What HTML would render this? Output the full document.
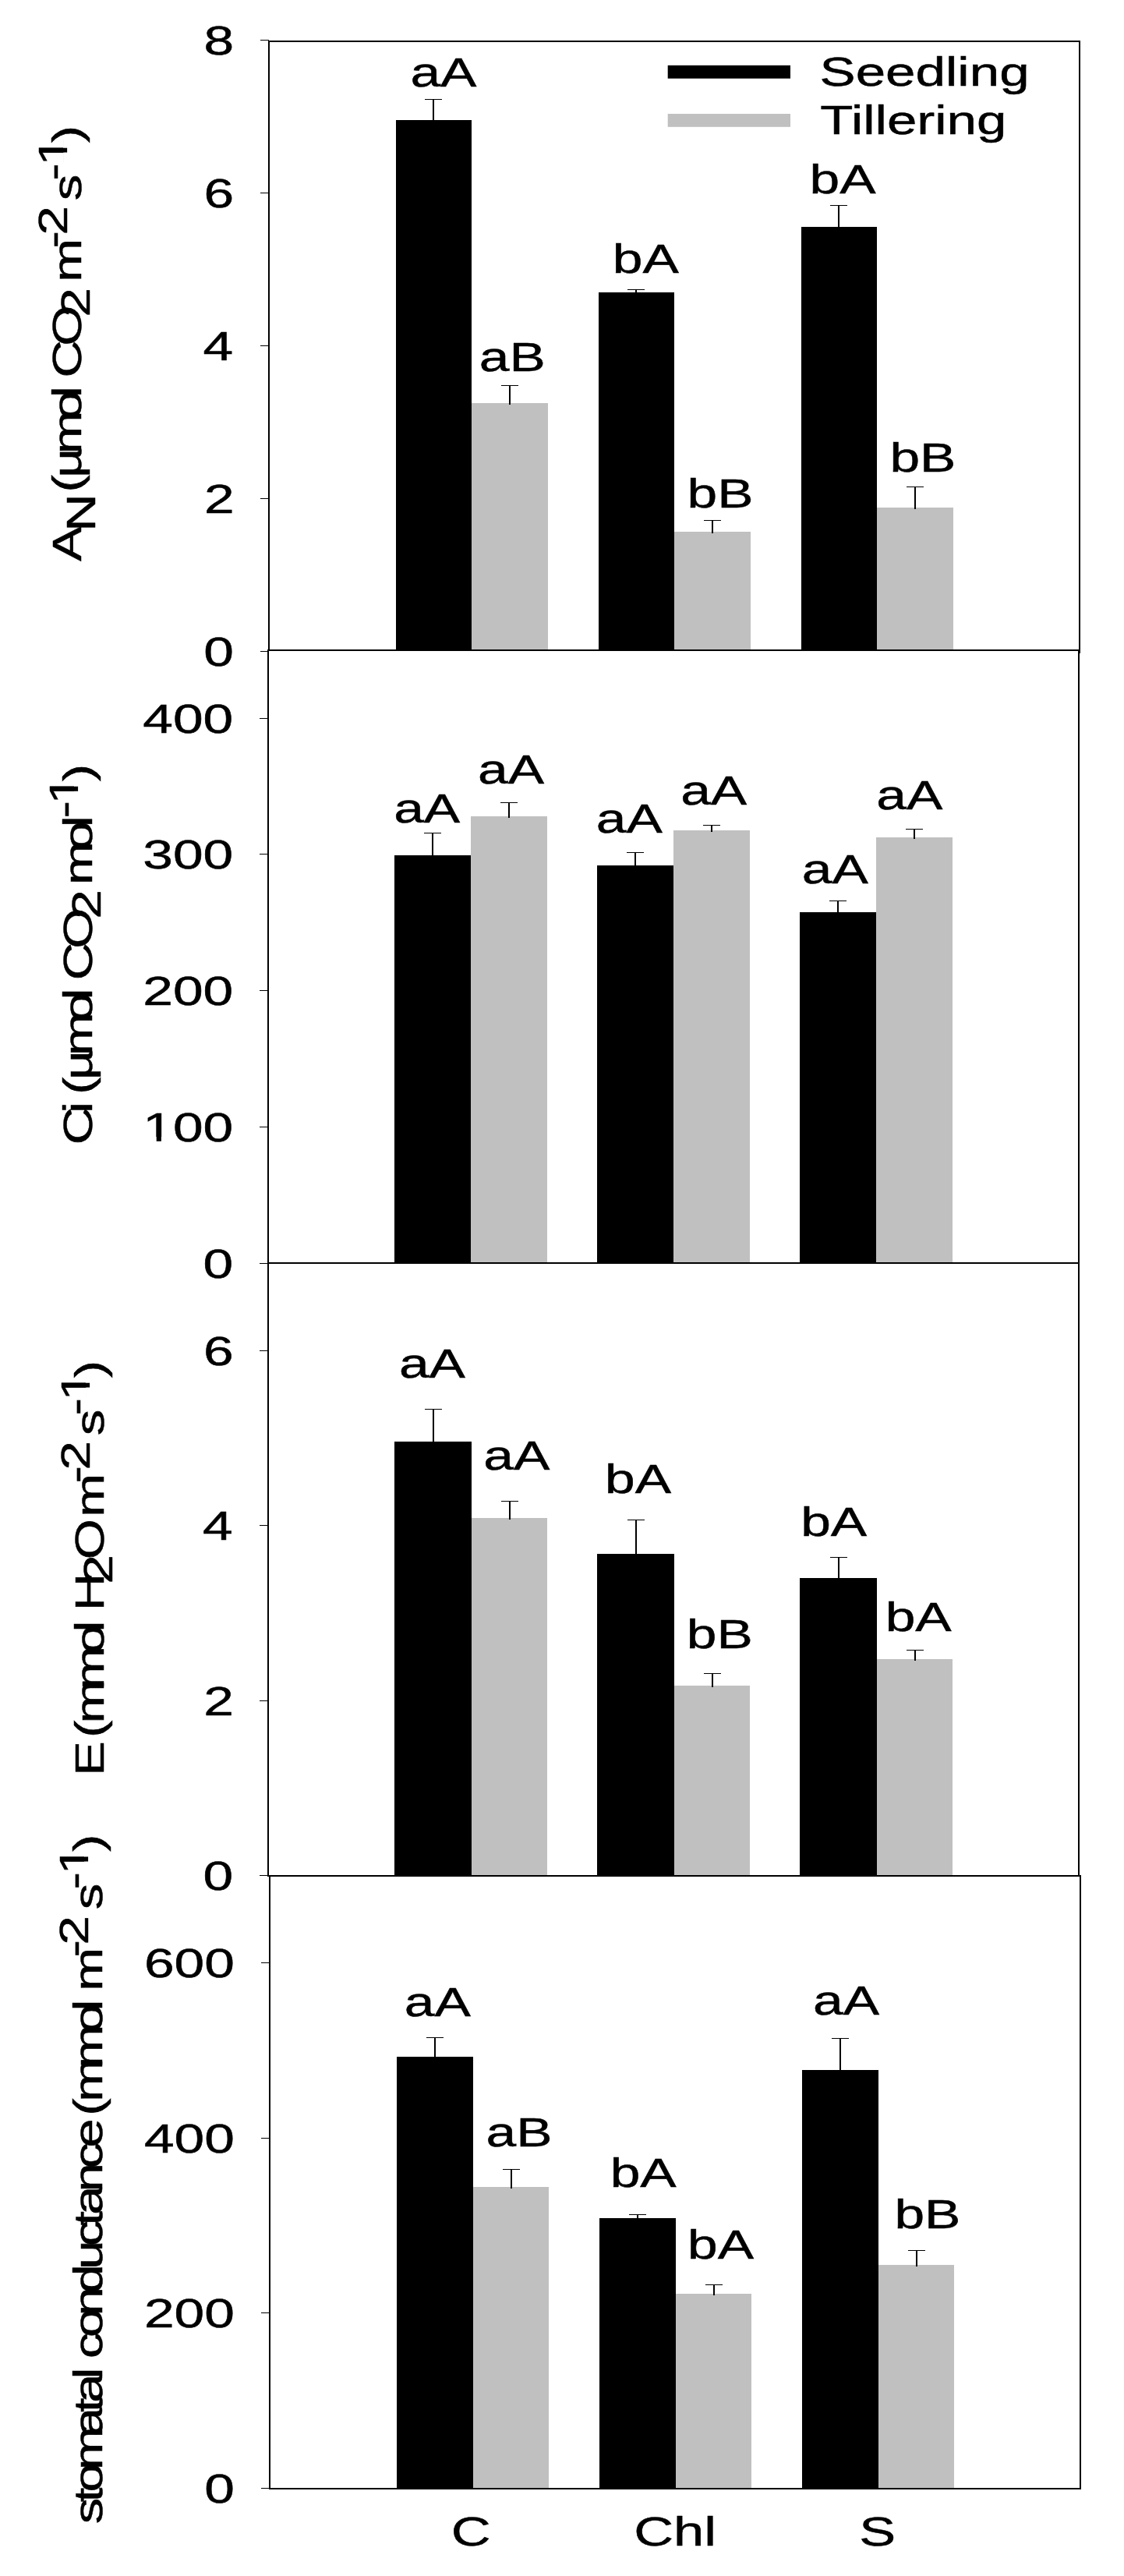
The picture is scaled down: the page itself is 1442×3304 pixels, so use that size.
<!DOCTYPE html>
<html><head><meta charset="utf-8"><title>Gas exchange</title>
<style>html,body{margin:0;padding:0;background:#fff}svg{display:block}text{font-family:"Liberation Sans",Arial,Helvetica,sans-serif;fill:#000;stroke:#000;stroke-width:0.5px;stroke-linejoin:miter}</style>
</head><body>
<svg width="1442" height="3304" viewBox="0 0 1442 3304">
<defs><clipPath id="one" clipPathUnits="userSpaceOnUse"><rect x="0" y="-52.50" width="52.50" height="47.373"/><rect x="13.202" y="-5.896" width="4.640" height="6.096"/></clipPath></defs>
<rect x="0" y="0" width="1442" height="3304" fill="#fff"/>
<g id="panel1">
<rect x="345.00" y="53.00" width="1040.00" height="784.00" fill="#fff"/>
<rect x="508.00" y="154.00" width="97.00" height="683.00" fill="#000"/>
<line x1="556.00" y1="127.50" x2="556.00" y2="156.00" stroke="#000" stroke-width="2"/>
<line x1="545.00" y1="127.50" x2="567.00" y2="127.50" stroke="#000" stroke-width="1"/>
<rect x="605.00" y="517.00" width="98.00" height="320.00" fill="#c0c0c0"/>
<line x1="654.00" y1="494.50" x2="654.00" y2="519.00" stroke="#000" stroke-width="2"/>
<line x1="643.00" y1="494.50" x2="665.00" y2="494.50" stroke="#000" stroke-width="1"/>
<rect x="768.00" y="375.00" width="97.00" height="462.00" fill="#000"/>
<line x1="816.00" y1="371.50" x2="816.00" y2="377.00" stroke="#000" stroke-width="2"/>
<line x1="805.00" y1="371.50" x2="827.00" y2="371.50" stroke="#000" stroke-width="1"/>
<rect x="865.00" y="682.00" width="98.00" height="155.00" fill="#c0c0c0"/>
<line x1="914.00" y1="667.50" x2="914.00" y2="684.00" stroke="#000" stroke-width="2"/>
<line x1="903.00" y1="667.50" x2="925.00" y2="667.50" stroke="#000" stroke-width="1"/>
<rect x="1028.00" y="291.00" width="97.00" height="546.00" fill="#000"/>
<line x1="1076.00" y1="263.50" x2="1076.00" y2="293.00" stroke="#000" stroke-width="2"/>
<line x1="1065.00" y1="263.50" x2="1087.00" y2="263.50" stroke="#000" stroke-width="1"/>
<rect x="1125.00" y="651.00" width="98.00" height="186.00" fill="#c0c0c0"/>
<line x1="1174.00" y1="624.50" x2="1174.00" y2="653.00" stroke="#000" stroke-width="2"/>
<line x1="1163.00" y1="624.50" x2="1185.00" y2="624.50" stroke="#000" stroke-width="1"/>
<rect x="345.00" y="53.00" width="1040.00" height="784.00" fill="none" stroke="#000" stroke-width="2"/>
<line x1="334.00" y1="51.50" x2="345.00" y2="51.50" stroke="#000" stroke-width="1"/>
<text transform="translate(261.57,69.50) scale(1.3238,1)" font-size="52.5">8</text>
<line x1="334.00" y1="247.50" x2="345.00" y2="247.50" stroke="#000" stroke-width="1"/>
<text transform="translate(261.60,265.50) scale(1.3238,1)" font-size="52.5">6</text>
<line x1="334.00" y1="443.50" x2="345.00" y2="443.50" stroke="#000" stroke-width="1"/>
<text transform="translate(260.58,461.50) scale(1.3238,1)" font-size="52.5">4</text>
<line x1="334.00" y1="639.50" x2="345.00" y2="639.50" stroke="#000" stroke-width="1"/>
<text transform="translate(262.04,657.50) scale(1.3238,1)" font-size="52.5">2</text>
<line x1="334.00" y1="835.50" x2="345.00" y2="835.50" stroke="#000" stroke-width="1"/>
<text transform="translate(261.26,853.50) scale(1.3238,1)" font-size="52.5">0</text>
<text transform="translate(526.39,111.00) scale(1.3238,1)" font-size="52.5">aA</text>
<text transform="translate(614.85,476.00) scale(1.3238,1)" font-size="52.5">aB</text>
<text transform="translate(785.82,350.10) scale(1.3238,1)" font-size="52.5">bA</text>
<text transform="translate(881.59,650.60) scale(1.3238,1)" font-size="52.5">bB</text>
<text transform="translate(1038.52,247.90) scale(1.3238,1)" font-size="52.5">bA</text>
<text transform="translate(1141.39,605.10) scale(1.3238,1)" font-size="52.5">bB</text>
</g>
<g id="panel2">
<rect x="344.00" y="834.00" width="1040.00" height="786.00" fill="#fff"/>
<rect x="506.00" y="1097.00" width="98.00" height="523.00" fill="#000"/>
<line x1="555.00" y1="1068.50" x2="555.00" y2="1099.00" stroke="#000" stroke-width="2"/>
<line x1="544.00" y1="1068.50" x2="566.00" y2="1068.50" stroke="#000" stroke-width="1"/>
<rect x="604.00" y="1047.00" width="98.00" height="573.00" fill="#c0c0c0"/>
<line x1="653.00" y1="1029.50" x2="653.00" y2="1049.00" stroke="#000" stroke-width="2"/>
<line x1="642.00" y1="1029.50" x2="664.00" y2="1029.50" stroke="#000" stroke-width="1"/>
<rect x="766.00" y="1110.00" width="98.00" height="510.00" fill="#000"/>
<line x1="815.00" y1="1093.50" x2="815.00" y2="1112.00" stroke="#000" stroke-width="2"/>
<line x1="804.00" y1="1093.50" x2="826.00" y2="1093.50" stroke="#000" stroke-width="1"/>
<rect x="864.00" y="1065.00" width="98.00" height="555.00" fill="#c0c0c0"/>
<line x1="913.00" y1="1058.50" x2="913.00" y2="1067.00" stroke="#000" stroke-width="2"/>
<line x1="902.00" y1="1058.50" x2="924.00" y2="1058.50" stroke="#000" stroke-width="1"/>
<rect x="1026.00" y="1170.00" width="98.00" height="450.00" fill="#000"/>
<line x1="1075.00" y1="1155.50" x2="1075.00" y2="1172.00" stroke="#000" stroke-width="2"/>
<line x1="1064.00" y1="1155.50" x2="1086.00" y2="1155.50" stroke="#000" stroke-width="1"/>
<rect x="1124.00" y="1074.00" width="98.00" height="546.00" fill="#c0c0c0"/>
<line x1="1173.00" y1="1063.50" x2="1173.00" y2="1076.00" stroke="#000" stroke-width="2"/>
<line x1="1162.00" y1="1063.50" x2="1184.00" y2="1063.50" stroke="#000" stroke-width="1"/>
<rect x="344.00" y="834.00" width="1040.00" height="786.00" fill="none" stroke="#000" stroke-width="2"/>
<line x1="333.00" y1="921.50" x2="344.00" y2="921.50" stroke="#000" stroke-width="1"/>
<text transform="translate(183.26,939.50) scale(1.3238,1)" font-size="52.5">400</text>
<line x1="333.00" y1="1095.50" x2="344.00" y2="1095.50" stroke="#000" stroke-width="1"/>
<text transform="translate(183.26,1113.50) scale(1.3238,1)" font-size="52.5">300</text>
<line x1="333.00" y1="1270.50" x2="344.00" y2="1270.50" stroke="#000" stroke-width="1"/>
<text transform="translate(183.26,1288.50) scale(1.3238,1)" font-size="52.5">200</text>
<line x1="333.00" y1="1445.50" x2="344.00" y2="1445.50" stroke="#000" stroke-width="1"/>
<text clip-path="url(#one)" transform="translate(183.26,1463.50) scale(1.3238,1)" font-size="52.5">1</text>
<text transform="translate(221.91,1463.50) scale(1.3238,1)" font-size="52.5">00</text>
<line x1="333.00" y1="1620.50" x2="344.00" y2="1620.50" stroke="#000" stroke-width="1"/>
<text transform="translate(260.56,1638.50) scale(1.3238,1)" font-size="52.5">0</text>
<text transform="translate(505.14,1054.90) scale(1.3238,1)" font-size="52.5">aA</text>
<text transform="translate(613.09,1005.10) scale(1.3238,1)" font-size="52.5">aA</text>
<text transform="translate(764.74,1067.70) scale(1.3238,1)" font-size="52.5">aA</text>
<text transform="translate(873.14,1032.10) scale(1.3238,1)" font-size="52.5">aA</text>
<text transform="translate(1028.84,1132.80) scale(1.3238,1)" font-size="52.5">aA</text>
<text transform="translate(1124.34,1037.80) scale(1.3238,1)" font-size="52.5">aA</text>
</g>
<g id="panel3">
<rect x="344.00" y="1620.00" width="1040.00" height="786.00" fill="#fff"/>
<rect x="506.00" y="1849.00" width="99.00" height="557.00" fill="#000"/>
<line x1="556.00" y1="1807.50" x2="556.00" y2="1851.00" stroke="#000" stroke-width="2"/>
<line x1="545.00" y1="1807.50" x2="567.00" y2="1807.50" stroke="#000" stroke-width="1"/>
<rect x="605.00" y="1947.00" width="97.00" height="459.00" fill="#c0c0c0"/>
<line x1="654.00" y1="1925.50" x2="654.00" y2="1949.00" stroke="#000" stroke-width="2"/>
<line x1="643.00" y1="1925.50" x2="665.00" y2="1925.50" stroke="#000" stroke-width="1"/>
<rect x="766.00" y="1993.00" width="99.00" height="413.00" fill="#000"/>
<line x1="816.00" y1="1949.50" x2="816.00" y2="1995.00" stroke="#000" stroke-width="2"/>
<line x1="805.00" y1="1949.50" x2="827.00" y2="1949.50" stroke="#000" stroke-width="1"/>
<rect x="865.00" y="2162.00" width="97.00" height="244.00" fill="#c0c0c0"/>
<line x1="914.00" y1="2146.50" x2="914.00" y2="2164.00" stroke="#000" stroke-width="2"/>
<line x1="903.00" y1="2146.50" x2="925.00" y2="2146.50" stroke="#000" stroke-width="1"/>
<rect x="1026.00" y="2024.00" width="99.00" height="382.00" fill="#000"/>
<line x1="1076.00" y1="1997.50" x2="1076.00" y2="2026.00" stroke="#000" stroke-width="2"/>
<line x1="1065.00" y1="1997.50" x2="1087.00" y2="1997.50" stroke="#000" stroke-width="1"/>
<rect x="1125.00" y="2128.00" width="97.00" height="278.00" fill="#c0c0c0"/>
<line x1="1174.00" y1="2116.50" x2="1174.00" y2="2130.00" stroke="#000" stroke-width="2"/>
<line x1="1163.00" y1="2116.50" x2="1185.00" y2="2116.50" stroke="#000" stroke-width="1"/>
<rect x="344.00" y="1620.00" width="1040.00" height="786.00" fill="none" stroke="#000" stroke-width="2"/>
<line x1="333.00" y1="1732.50" x2="344.00" y2="1732.50" stroke="#000" stroke-width="1"/>
<text transform="translate(260.90,1750.50) scale(1.3238,1)" font-size="52.5">6</text>
<line x1="333.00" y1="1956.50" x2="344.00" y2="1956.50" stroke="#000" stroke-width="1"/>
<text transform="translate(259.88,1974.50) scale(1.3238,1)" font-size="52.5">4</text>
<line x1="333.00" y1="2181.50" x2="344.00" y2="2181.50" stroke="#000" stroke-width="1"/>
<text transform="translate(261.34,2199.50) scale(1.3238,1)" font-size="52.5">2</text>
<line x1="333.00" y1="2405.50" x2="344.00" y2="2405.50" stroke="#000" stroke-width="1"/>
<text transform="translate(260.56,2423.50) scale(1.3238,1)" font-size="52.5">0</text>
<text transform="translate(511.89,1766.80) scale(1.3238,1)" font-size="52.5">aA</text>
<text transform="translate(620.29,1885.30) scale(1.3238,1)" font-size="52.5">aA</text>
<text transform="translate(776.07,1915.30) scale(1.3238,1)" font-size="52.5">bA</text>
<text transform="translate(880.74,2113.70) scale(1.3238,1)" font-size="52.5">bB</text>
<text transform="translate(1027.17,1969.60) scale(1.3238,1)" font-size="52.5">bA</text>
<text transform="translate(1135.72,2091.60) scale(1.3238,1)" font-size="52.5">bA</text>
</g>
<g id="panel4">
<rect x="346.00" y="2406.00" width="1040.00" height="786.00" fill="#fff"/>
<rect x="509.00" y="2638.00" width="98.00" height="554.00" fill="#000"/>
<line x1="558.00" y1="2613.50" x2="558.00" y2="2640.00" stroke="#000" stroke-width="2"/>
<line x1="547.00" y1="2613.50" x2="569.00" y2="2613.50" stroke="#000" stroke-width="1"/>
<rect x="607.00" y="2805.00" width="97.00" height="387.00" fill="#c0c0c0"/>
<line x1="656.00" y1="2782.50" x2="656.00" y2="2807.00" stroke="#000" stroke-width="2"/>
<line x1="645.00" y1="2782.50" x2="667.00" y2="2782.50" stroke="#000" stroke-width="1"/>
<rect x="769.00" y="2845.00" width="98.00" height="347.00" fill="#000"/>
<line x1="818.00" y1="2840.50" x2="818.00" y2="2847.00" stroke="#000" stroke-width="2"/>
<line x1="807.00" y1="2840.50" x2="829.00" y2="2840.50" stroke="#000" stroke-width="1"/>
<rect x="867.00" y="2942.00" width="97.00" height="250.00" fill="#c0c0c0"/>
<line x1="916.00" y1="2930.50" x2="916.00" y2="2944.00" stroke="#000" stroke-width="2"/>
<line x1="905.00" y1="2930.50" x2="927.00" y2="2930.50" stroke="#000" stroke-width="1"/>
<rect x="1029.00" y="2655.00" width="98.00" height="537.00" fill="#000"/>
<line x1="1078.00" y1="2614.50" x2="1078.00" y2="2657.00" stroke="#000" stroke-width="2"/>
<line x1="1067.00" y1="2614.50" x2="1089.00" y2="2614.50" stroke="#000" stroke-width="1"/>
<rect x="1127.00" y="2905.00" width="97.00" height="287.00" fill="#c0c0c0"/>
<line x1="1176.00" y1="2886.50" x2="1176.00" y2="2907.00" stroke="#000" stroke-width="2"/>
<line x1="1165.00" y1="2886.50" x2="1187.00" y2="2886.50" stroke="#000" stroke-width="1"/>
<rect x="346.00" y="2406.00" width="1040.00" height="786.00" fill="none" stroke="#000" stroke-width="2"/>
<line x1="335.00" y1="2517.50" x2="346.00" y2="2517.50" stroke="#000" stroke-width="1"/>
<text transform="translate(184.96,2535.50) scale(1.3238,1)" font-size="52.5">600</text>
<line x1="335.00" y1="2742.50" x2="346.00" y2="2742.50" stroke="#000" stroke-width="1"/>
<text transform="translate(184.96,2760.50) scale(1.3238,1)" font-size="52.5">400</text>
<line x1="335.00" y1="2966.50" x2="346.00" y2="2966.50" stroke="#000" stroke-width="1"/>
<text transform="translate(184.96,2984.50) scale(1.3238,1)" font-size="52.5">200</text>
<line x1="335.00" y1="3191.50" x2="346.00" y2="3191.50" stroke="#000" stroke-width="1"/>
<text transform="translate(262.26,3209.50) scale(1.3238,1)" font-size="52.5">0</text>
<text transform="translate(518.84,2586.10) scale(1.3238,1)" font-size="52.5">aA</text>
<text transform="translate(623.50,2753.30) scale(1.3238,1)" font-size="52.5">aB</text>
<text transform="translate(782.72,2805.20) scale(1.3238,1)" font-size="52.5">bA</text>
<text transform="translate(882.12,2896.60) scale(1.3238,1)" font-size="52.5">bA</text>
<text transform="translate(1043.04,2583.60) scale(1.3238,1)" font-size="52.5">aA</text>
<text transform="translate(1147.44,2858.20) scale(1.3238,1)" font-size="52.5">bB</text>
</g>
<rect x="856.70" y="83.80" width="157.30" height="16.90" fill="#000"/>
<rect x="856.70" y="146.00" width="157.30" height="16.80" fill="#c0c0c0"/>
<text transform="translate(1051.56,110.20) scale(1.3169,1)" font-size="52.5">Seedling</text>
<text transform="translate(1052.35,171.60) scale(1.3145,1)" font-size="52.5">Tillering</text>
<text transform="translate(578.72,3265.00) scale(1.3444,1)" font-size="52.5">C</text>
<text transform="translate(813.22,3265.00) scale(1.3430,1)" font-size="52.5">Chl</text>
<text transform="translate(1102.21,3265.00) scale(1.3400,1)" font-size="52.5">S</text>
<text transform="translate(104.30,0) rotate(-90) scale(1.2762,1)" font-size="52.5" x="-564.21 -534.25 -496.34 -494.86 -480.20 -456.45 -421.75 -399.83 -388.17 -379.58 -347.71 -318.47 -289.27 -283.44 -249.61 -236.20 -207.00 -201.67 -181.52 -143.61" y="0 18 0 0 0 0 0 0 0 0 0 11 0 0 -18 -18 0 0 -18 0" xml:space="preserve">AN (µmol CO2 m-2 s-)</text>
<text clip-path="url(#one)" transform="translate(104.30,0) rotate(-90) scale(1.2762,1) translate(-166.44,-18)" font-size="52.5">1</text>
<text transform="translate(118.10,0) rotate(-90) scale(1.2762,1)" font-size="52.5" x="-1150.47 -1118.98 -1107.31 -1100.18 -1085.20 -1061.22 -1026.75 -1004.91 -993.25 -985.21 -953.42 -923.48 -894.28 -889.30 -854.52 -831.66 -822.33 -785.29" y="0 0 0 0 0 0 0 0 0 0 0 11 0 0 0 0 -18 0" xml:space="preserve">Ci (µmol CO2 mol-)</text>
<text clip-path="url(#one)" transform="translate(118.10,0) rotate(-90) scale(1.2762,1) translate(-808.27,-18)" font-size="52.5">1</text>
<text transform="translate(133.20,0) rotate(-90) scale(1.2762,1)" font-size="52.5" x="-1784.73 -1749.71 -1746.56 -1732.13 -1697.96 -1662.00 -1640.40 -1628.73 -1619.04 -1591.87 -1567.43 -1526.60 -1524.63 -1490.81 -1477.39 -1448.19 -1442.79 -1422.64 -1384.73" y="0 0 0 0 0 0 0 0 0 11 0 0 0 -18 -18 0 0 -18 0" xml:space="preserve">E (mmol H2O m-2 s-)</text>
<text clip-path="url(#one)" transform="translate(133.20,0) rotate(-90) scale(1.2762,1) translate(-1407.63,-18)" font-size="52.5">1</text>
<text transform="translate(131.10,0) rotate(-90) scale(1.2762,1)" font-size="52.5" x="-2536.59 -2514.65 -2504.67 -2482.48 -2448.74 -2424.38 -2414.81 -2390.99 -2379.33 -2370.41 -2349.20 -2327.62 -2304.97 -2280.76 -2257.41 -2236.63 -2226.04 -2203.10 -2179.37 -2158.27 -2129.07 -2126.51 -2112.32 -2078.39 -2043.06 -2021.22 -2009.55 -2001.05 -1967.23 -1954.67 -1925.47 -1919.28 -1898.98 -1861.07" y="0 0 0 0 0 0 0 0 0 0 0 0 0 0 0 0 0 0 0 0 0 0 0 0 0 0 0 0 -18 -18 0 0 -18 0" xml:space="preserve">stomatal conductance (mmol m-2 s-)</text>
<text clip-path="url(#one)" transform="translate(131.10,0) rotate(-90) scale(1.2762,1) translate(-1883.97,-18)" font-size="52.5">1</text>
</svg>
</body></html>
